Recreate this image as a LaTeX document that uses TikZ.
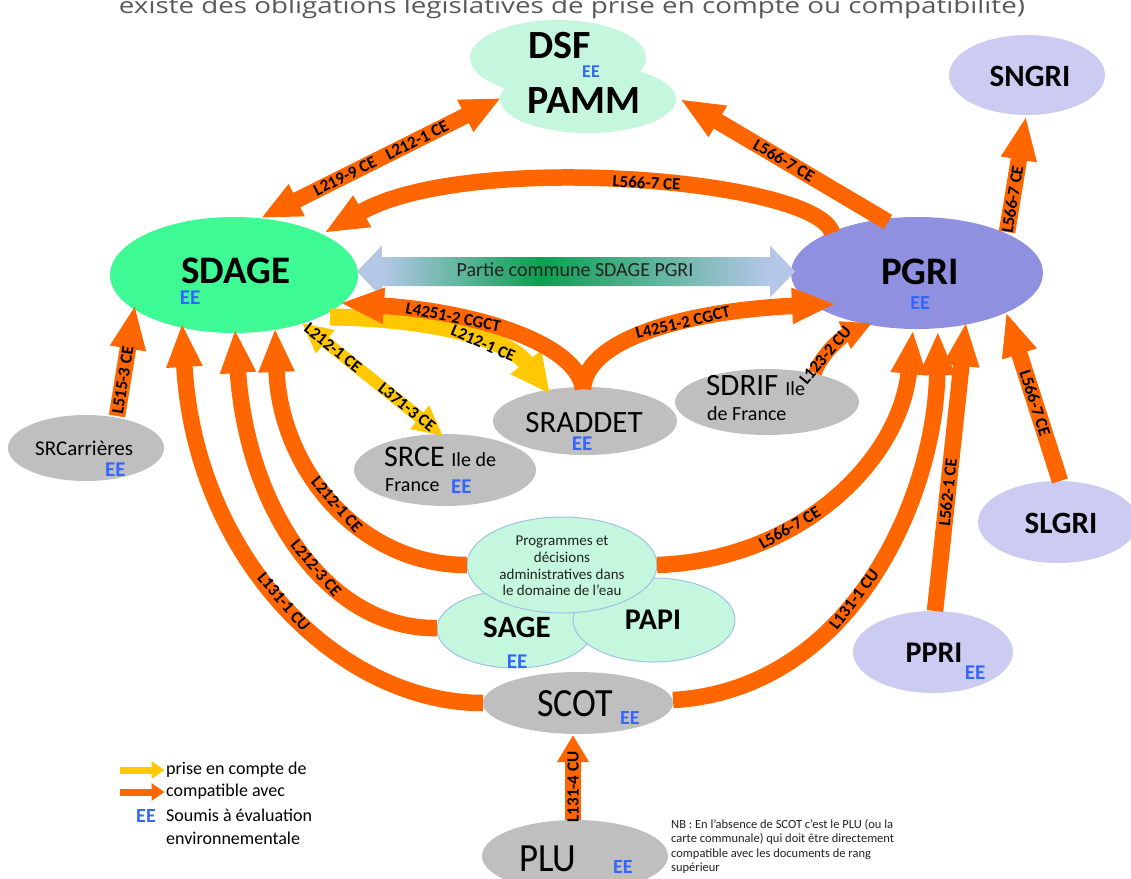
\documentclass[tikz,border=0pt]{standalone}
\usepackage{fontspec}
\setmainfont{Carlito}
\newfontfamily\osans{Open Sans}
\usetikzlibrary{shapes.geometric,arrows.meta,calc}
\definecolor{orA}{HTML}{FF6600}
\definecolor{yeA}{HTML}{FFC800}
\definecolor{mint}{HTML}{C4F7DD}
\definecolor{lav}{HTML}{CCCCF3}
\definecolor{sdg}{HTML}{3DFA95}
\definecolor{pgc}{HTML}{8F90E0}
\definecolor{grY}{HTML}{BFBFBF}
\definecolor{bdB}{HTML}{9DC3E6}
\definecolor{eeB}{HTML}{3366FF}
\definecolor{gyT}{HTML}{595959}
\definecolor{dkT}{HTML}{222222}
\definecolor{lbA}{HTML}{B4C7E7}
\definecolor{grA}{HTML}{0AA050}
\pgfdeclarehorizontalshading{sdpg}{100bp}{color(0bp)=(lbA); color(28bp)=(lbA); color(46bp)=(grA); color(72bp)=(lbA); color(100bp)=(lbA)}
\begin{document}
\begin{tikzpicture}[x=1pt,y=-1pt,
  ell/.style={ellipse,inner sep=0pt,outer sep=0pt,draw=none},
  btxt/.style={font=\bfseries\fontsize{#1}{#1}\selectfont,inner sep=0pt},
  rtxt/.style={font=\fontsize{#1}{#1}\selectfont,inner sep=0pt},
  eetxt/.style={font=\bfseries\fontsize{#1}{#1}\selectfont,inner sep=0pt,text=eeB},
  lab/.style={font=\bfseries\fontsize{17}{17}\selectfont,sloped,inner sep=0pt,text=black},
  oarr/.style={draw=orA,line width=16.5pt,-{Triangle[length=44pt,width=33pt]}},
  oarrd/.style={draw=orA,line width=16pt,{Triangle[length=40pt,width=33pt]}-{Triangle[length=40pt,width=33pt]}},
  oarrs/.style={draw=orA,line width=14pt,-{Triangle[length=30pt,width=28pt]}},
  oarrp/.style={draw=orA,line width=16pt,-{Triangle[length=27pt,width=30pt]}},
  yarr/.style={draw=yeA,line width=17pt,-{Triangle[length=40pt,width=36pt]}},
  yarrd/.style={draw=yeA,line width=12pt,{Triangle[length=30pt,width=28pt]}-{Triangle[length=30pt,width=28pt]}},
  legarr/.style={line width=7pt,-{Triangle[length=13pt,width=17pt]}}]
\clip (0,0) rectangle (1131,878);
\fill[white] (0,0) rectangle (1131,878);

\node[anchor=base,text=gyT,font=\osans\fontsize{22}{22}\selectfont,inner sep=0pt] (title) at (572,13) {\resizebox{906pt}{\height}{existe des obligations législatives de prise en compte ou compatibilité)}};

% ellipses
\node[ell,fill=mint,minimum width=176pt,minimum height=76pt] (dsf) at (558,58) {};
\node[ell,fill=mint,minimum width=176pt,minimum height=68pt] (pamm) at (588,99) {};
\node[ell,fill=lav,minimum width=156pt,minimum height=80pt] (sngri) at (1027,75) {};
\node[ell,fill=sdg,minimum width=248pt,minimum height=116pt] (sdage) at (234,275) {};
\node[ell,fill=pgc,minimum width=252pt,minimum height=112pt] (pgri) at (917,273) {};
\node[ell,fill=grY,minimum width=184pt,minimum height=68pt] (sraddet) at (585,421) {};
\node[ell,fill=grY,minimum width=184pt,minimum height=66pt] (sdrif) at (767,402) {};
\node[ell,fill=grY,minimum width=182pt,minimum height=72pt] (srce) at (445,470) {};
\node[ell,fill=grY,minimum width=156pt,minimum height=66pt] (srcarr) at (86,448) {};
\node[ell,fill=lav,minimum width=160pt,minimum height=82pt] (slgri) at (1058,522) {};
\node[ell,fill=lav,minimum width=160pt,minimum height=82pt] (ppri) at (933,652) {};
\node[ell,fill=mint,draw=bdB,line width=1pt,minimum width=156pt,minimum height=78pt] (sage) at (515,629) {};
\node[ell,fill=mint,draw=bdB,line width=1pt,minimum width=162pt,minimum height=84pt] (papi) at (654,620) {};
\node[ell,fill=mint,draw=bdB,line width=1pt,minimum width=190pt,minimum height=96pt] (prog) at (562,565) {};
\node[ell,fill=grY,minimum width=190pt,minimum height=62pt] (scot) at (578,703) {};
\node[ell,fill=grY,minimum width=186pt,minimum height=72pt] (plu) at (575,856) {};

% common part arrow
\coordinate (gL) at ($(sdage.east)+(-1,-3.5)$);
\coordinate (gR) at ($(pgri.west)+(4,-1.5)$);
\shade[shading=sdpg] (gL) -- ++(25,-26) -- ++(0,11.5) -- ($(gR)+(-25,-14.5)$) -- ++(0,-11.5) -- (gR) -- ++(-25,26) -- ++(0,-11.5) -- ($(gL)+(25,14.5)$) -- ++(0,11.5) -- cycle;
\node[rtxt=20,text=dkT] (tcom) at (575,270) {Partie commune SDAGE PGRI};

% yellow arrows
\draw[yarr] ($(sdage)+(96,42)$) .. controls (420,318) and (505,335) .. node[lab,pos=.62]{L212-1 CE} ($(sraddet)+(-35,-27)$);
\draw[yarrd] ($(sdage)+(68,48)$) -- node[lab,pos=.22]{L212-1 CE} node[lab,pos=.745]{L371-3 CE} ($(srce)+(-2,-34)$);

% orange arrows
\draw[oarrd] ($(sdage)+(27,-57)$) -- node[lab,pos=.35]{L219-9 CE} node[lab,pos=.65]{L212-1 CE} ($(pamm)+(-87,-1)$);
\draw[oarr] ($(pgri)+(-29,-51)$) -- node[lab,pos=.5]{L566-7 CE} ($(pamm)+(92,0)$);
\draw[oarr] ($(pgri)+(-85,-40)$) .. controls (818,180) and (470,150) .. node[lab,pos=.47]{L566-7 CE} ($(sdage)+(90,-42)$);
\draw[oarr] ($(pgri)+(90,-41)$) -- node[lab,pos=.28]{L566-7 CE} ($(sngri)+(-1,41)$);
\draw[oarr] ($(sraddet)+(-2,-32)$) .. controls (578,345) and (480,312) .. node[lab,pos=.7]{L4251-2 CGCT} ($(sdage)+(106,28)$);
\draw[oarr] ($(sraddet)+(-2,-32)$) .. controls (586,335) and (700,310) .. node[lab,pos=.58]{L4251-2 CGCT} ($(pgri)+(-81,31)$);
\draw[oarrs] ($(sdrif)+(48,-29)$) .. controls (822,352) and (845,335) .. node[lab,pos=.3]{L123-2 CU} ($(pgri)+(-45,50)$);
\draw[oarr] ($(srcarr)+(31,-32)$) -- node[lab,pos=.32]{L515-3 CE} ($(sdage)+(-99,30)$);
\draw[oarr] ($(prog)+(-95,0)$) .. controls (360,565) and (280,470) .. node[lab,pos=.48]{L212-1 CE} ($(sdage)+(41,53)$);
\draw[oarr] ($(sage)+(-78,-1)$) .. controls (335,630) and (248,520) .. node[lab,pos=.44]{L212-3 CE} ($(sdage)+(1,54)$);
\draw[oarr] ($(scot)+(-95,0)$) .. controls (340,703) and (195,560) .. node[lab,pos=.5]{L131-1 CU} ($(sdage)+(-52,48)$);
\draw[oarr] ($(prog)+(95,0)$) .. controls (800,560) and (900,460) .. node[lab,pos=.35]{L566-7 CE} ($(pgri)+(-4,57)$);
\draw[oarr] ($(scot)+(95,-3)$) .. controls (850,690) and (935,500) .. node[lab,pos=.44]{L131-1 CU} ($(pgri)+(21,58)$);
\draw[oarr] ($(ppri)+(2,-41)$) -- node[lab,pos=.41]{L562-1 CE} ($(pgri)+(49,49)$);
\draw[oarr] ($(slgri)+(2,-41)$) -- node[lab,pos=.46]{L566-7 CE} ($(pgri)+(89,39)$);
\draw[oarrp] ($(plu)+(-2,-36)$) -- node[lab,pos=.39]{L131-4 CU} ($(scot)+(-5,32)$);

% texts
\node[btxt=40] (tdsf) at (560,46) {DSF};
\node[eetxt=18] (eedsf) at (591,72) {EE};
\node[btxt=40] (tpamm) at (584,101) {PAMM};
\node[btxt=31] (tsngri) at (1030,76) {SNGRI};
\node[btxt=39] (tsdage) at (236,271) {SDAGE};
\node[eetxt=21] (eesdage) at (190,298) {EE};
\node[btxt=39] (tpgri) at (920,272) {PGRI};
\node[eetxt=20] (eepgri) at (920,303) {EE};
\node[rtxt=31,anchor=base] (tsrad) at (584,432) {SRADDET};
\node[eetxt=21] (eesrad) at (582,444) {EE};
\node[rtxt=31,anchor=base west] (tsdrif) at (706,395) {SDRIF {\fontsize{20}{20}\selectfont Ile}};
\node[rtxt=20,anchor=base west] (tsdrif2) at (707,420) {de France};
\node[rtxt=30,anchor=base west] (tsrce) at (384,466) {SRCE {\fontsize{20}{20}\selectfont Ile de}};
\node[rtxt=20,anchor=base west] (tsrce2) at (385,491) {France};
\node[eetxt=21,anchor=base west] (eesrce) at (451,493) {EE};
\node[rtxt=21,anchor=base west] (tsrc) at (35,455) {SRCarrières};
\node[eetxt=21,anchor=base west] (eesrc) at (105,476) {EE};
\node[btxt=31] (tslgri) at (1061,523) {SLGRI};
\node[btxt=30] (tppri) at (934,653) {PPRI};
\node[eetxt=21] (eeppri) at (975,673) {EE};
\node[inner sep=0pt,align=center,text=dkT,font=\fontsize{15}{16.7}\selectfont] (tprog) at (562,566) {Programmes et\\décisions\\administratives dans\\le domaine de l’eau};
\node[btxt=31] (tsage) at (517,627) {SAGE};
\node[eetxt=21] (eesage) at (517,662) {EE};
\node[btxt=30] (tpapi) at (653,620) {PAPI};
\node[rtxt=40,anchor=base west] (tscot) at (537,716) {\scalebox{0.9}[1]{SCOT}};
\node[eetxt=20,anchor=base west] (eescot) at (620,724) {EE};
\node[rtxt=40,anchor=base west] (tplu) at (519,871) {\scalebox{0.92}[1]{PLU}};
\node[eetxt=20,anchor=base west] (eeplu) at (613,873) {EE};

% legend
\node[rtxt=18,anchor=west,inner sep=1.5pt] (leg1) at (164.5,770) {prise en compte de};
\node[rtxt=18,anchor=west,inner sep=1.5pt] (leg2) at (164.5,792) {compatible avec};
\node[eetxt=20] (legee) at (146,816) {EE};
\node[rtxt=18,anchor=west] (leg3) at (166,815) {Soumis à évaluation};
\node[rtxt=18,anchor=west] (leg4) at (166,838) {environnementale};
\coordinate (ly) at (120,770);
\coordinate (lo) at (120,792);
\draw[legarr,draw=yeA] (ly) -- (leg1.west);
\draw[legarr,draw=orA] (lo) -- (leg2.west);

\node[inner sep=0pt,anchor=north west,align=left,text=dkT,font=\fontsize{12.5}{14.5}\selectfont] (nb) at (671,819) {NB : En l’absence de SCOT c’est le PLU (ou la\\carte communale) qui doit être directement\\compatible avec les documents de rang\\supérieur};
\end{tikzpicture}
\end{document}
